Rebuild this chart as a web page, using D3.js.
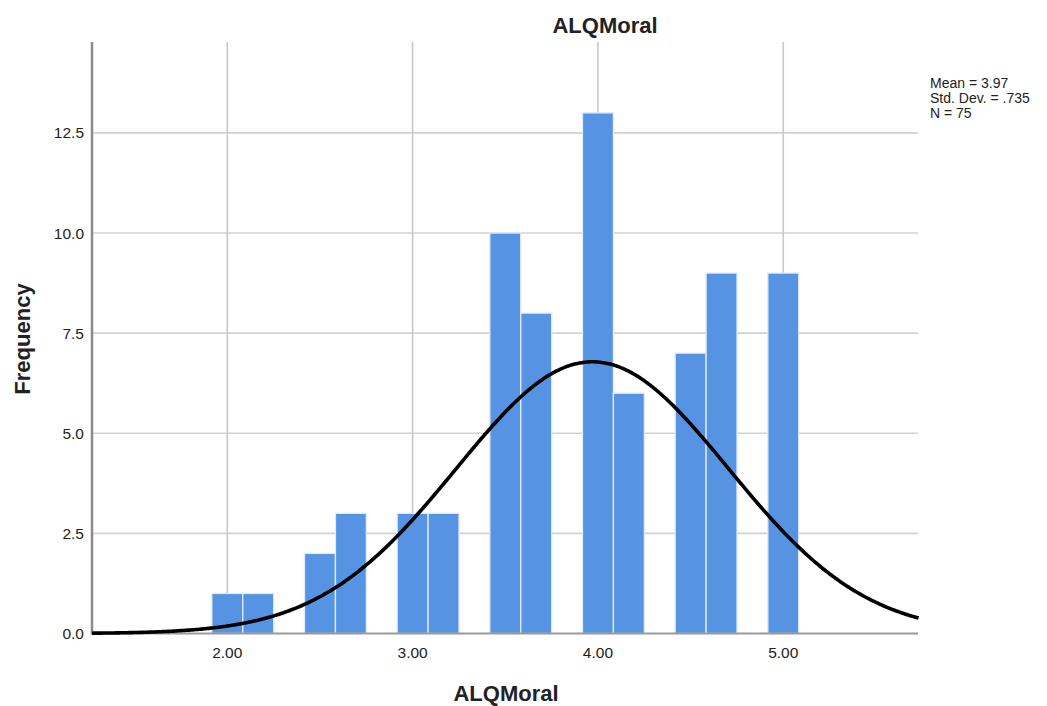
<!DOCTYPE html>
<html>
<head>
<meta charset="utf-8">
<script src="https://cdn.jsdelivr.net/npm/d3@7"></script>
<style>
  html, body { margin: 0; padding: 0; background: #fff; }
  svg { display: block; }
  text { font-family: "Liberation Sans", Arial, sans-serif; fill: #222; }
</style>
</head>
<body>
<svg id="chart" width="1047" height="706"></svg>
<script>
// Histogram of ALQMoral with fitted normal curve
const binCenters = [2.000, 2.167, 2.500, 2.667, 3.000, 3.167, 3.500, 3.667, 4.000, 4.167, 4.500, 4.667, 5.000];
const binCounts  = [1, 1, 2, 3, 3, 3, 10, 8, 13, 6, 7, 9, 9];
const binWidth = 1 / 6;

const xTicks = [2, 3, 4, 5];
const xTickLabels = ["2.00", "3.00", "4.00", "5.00"];
const yTicks = [0, 2.5, 5, 7.5, 10, 12.5];
const yTickLabels = ["0.0", "2.5", "5.0", "7.5", "10.0", "12.5"];

const stats = { mean: 3.97, sd: 0.735, n: 75 };
const legendLines = ["Mean = 3.97", "Std. Dev. = .735", "N = 75"];

const svg = d3.select("#chart");
const plotLeft = 92, plotRight = 918, plotTop = 42, plotBottom = 633.5;

const x = d3.scaleLinear().domain([1.270, 5.727]).range([plotLeft, plotRight]);
const y = d3.scaleLinear().domain([0, 14.77]).range([plotBottom, plotTop]);

// grid lines
const grid = svg.append("g");
grid.selectAll("line.h").data(yTicks.filter(d => d > 0)).join("line")
  .attr("class", "h")
  .attr("x1", plotLeft).attr("x2", plotRight)
  .attr("y1", d => y(d)).attr("y2", d => y(d))
  .attr("stroke", "#d2d2d2").attr("stroke-width", 1.6);
grid.selectAll("line.v").data(xTicks).join("line")
  .attr("class", "v")
  .attr("x1", d => x(d)).attr("x2", d => x(d))
  .attr("y1", plotTop).attr("y2", plotBottom)
  .attr("stroke", "#c8c8c8").attr("stroke-width", 1.6);

// bars
svg.append("g").selectAll("rect").data(binCenters).join("rect")
  .attr("x", d => x(d - binWidth / 2))
  .attr("width", d => x(d + binWidth / 2) - x(d - binWidth / 2))
  .attr("y", (d, i) => y(binCounts[i]))
  .attr("height", (d, i) => y(0) - y(binCounts[i]))
  .attr("fill", "#5694e3")
  .attr("stroke", "#dfeafa")
  .attr("stroke-width", 1.3);

// axis lines
svg.append("line")
  .attr("x1", plotLeft).attr("x2", plotRight).attr("y1", plotBottom).attr("y2", plotBottom)
  .attr("stroke", "#9a9a9a").attr("stroke-width", 2);
svg.append("line")
  .attr("x1", plotLeft).attr("x2", plotLeft).attr("y1", plotTop).attr("y2", plotBottom + 1)
  .attr("stroke", "#8a8a8a").attr("stroke-width", 2.5);

// fitted normal curve, scaled to counts per bin
const normal = v => stats.n * binWidth *
  Math.exp(-0.5 * Math.pow((v - stats.mean) / stats.sd, 2)) / (stats.sd * Math.sqrt(2 * Math.PI));
const curveXs = d3.range(x.domain()[0], x.domain()[1] + 0.005, 0.01);
svg.append("path")
  .datum(curveXs)
  .attr("d", d3.line().x(d => x(d)).y(d => y(normal(d))).curve(d3.curveBasis))
  .attr("fill", "none")
  .attr("stroke", "#000")
  .attr("stroke-width", 3.6);

// tick labels
svg.append("g").selectAll("text").data(yTicks).join("text")
  .attr("x", 84).attr("y", d => y(d)).attr("dy", "0.36em")
  .attr("text-anchor", "end").attr("font-size", 15.5)
  .text((d, i) => yTickLabels[i]);
svg.append("g").selectAll("text").data(xTicks).join("text")
  .attr("x", d => x(d)).attr("y", 658)
  .attr("text-anchor", "middle").attr("font-size", 15.5)
  .text((d, i) => xTickLabels[i]);

// titles
svg.append("text").attr("x", 605).attr("y", 33)
  .attr("text-anchor", "middle").attr("font-size", 22).attr("font-weight", "bold")
  .text("ALQMoral");
svg.append("text").attr("x", 506).attr("y", 701)
  .attr("text-anchor", "middle").attr("font-size", 22).attr("font-weight", "bold")
  .text("ALQMoral");
svg.append("text")
  .attr("transform", "translate(30,339) rotate(-90)")
  .attr("text-anchor", "middle").attr("font-size", 22).attr("font-weight", "bold")
  .text("Frequency");

// statistics box
svg.append("g").selectAll("text").data(legendLines).join("text")
  .attr("x", 930).attr("y", (d, i) => 88 + i * 15)
  .attr("font-size", 14)
  .text(d => d);
</script>
</body>
</html>
